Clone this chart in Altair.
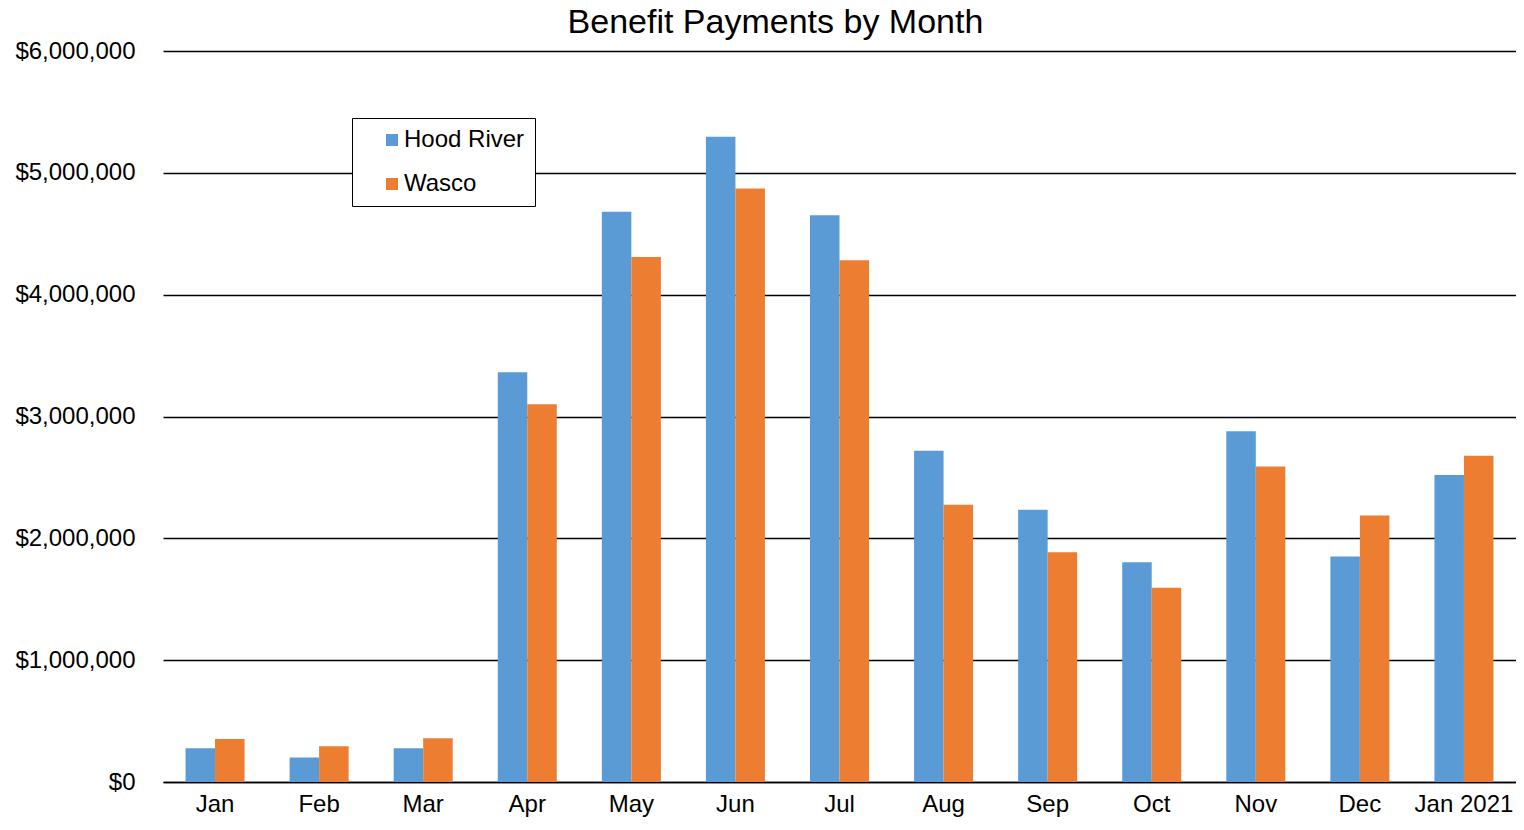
import altair as alt
import pandas as pd

months = ["Jan", "Feb", "Mar", "Apr", "May", "Jun", "Jul", "Aug", "Sep", "Oct", "Nov", "Dec", "Jan 2021"]
hood_river = [278000, 202000, 278000, 3363000, 4680000, 5296000, 4651000, 2718000, 2234000, 1804000, 2879000, 1851000, 2520000]
wasco = [353000, 294000, 359000, 3100000, 4310000, 4871000, 4283000, 2276000, 1886000, 1594000, 2590000, 2188000, 2678000]
series = ["Hood River", "Wasco"]
colors = ["#5B9BD5", "#ED7D31"]
y_ticks = [0, 1000000, 2000000, 3000000, 4000000, 5000000, 6000000]

rows = []
for m, h, w in zip(months, hood_river, wasco):
    rows.append({"Month": m, "County": series[0], "Payments": h})
    rows.append({"Month": m, "County": series[1], "Payments": w})
df = pd.DataFrame(rows)

FONT = "Liberation Sans"

chart = alt.Chart(df).mark_bar().encode(
    x=alt.X("Month:N", sort=months, title=None,
            scale=alt.Scale(paddingInner=0.433, paddingOuter=0.2165),
            axis=alt.Axis(labelAngle=0, labelFontSize=24, labelFont=FONT, labelColor="black",
                          domainColor="black", domainWidth=1.5, ticks=False, labelPadding=10, grid=False)),
    xOffset=alt.XOffset("County:N", sort=series, scale=alt.Scale(paddingInner=0, paddingOuter=0)),
    y=alt.Y("Payments:Q", title=None,
            scale=alt.Scale(domain=[0, 6000000], nice=False),
            axis=alt.Axis(values=y_ticks, format="$,.0f", labelFontSize=24, labelFont=FONT,
                          labelColor="black", domain=False, ticks=False, labelPadding=28,
                          gridColor="black", gridWidth=1.5, gridOpacity=1)),
    color=alt.Color("County:N", sort=series, scale=alt.Scale(domain=series, range=colors),
                    legend=alt.Legend(title=None, orient="none", legendX=189, legendY=67,
                                      labelFontSize=24, labelFont=FONT, labelColor="black",
                                      labelExpr="datum.label + '\u00a0\u00a0'",
                                      symbolType="square", symbolSize=144, symbolStrokeWidth=0,
                                      rowPadding=20, padding=10, symbolOffset=18, labelOffset=0,
                                      strokeColor="black", fillColor="white")),
).properties(
    width=1353,
    height=731,
    padding={"left": 155, "top": 43, "right": 0, "bottom": 40},
    autosize=alt.AutoSizeParams(type="none"),
    background="white",
    title=alt.TitleParams("Benefit Payments by Month", fontSize=34, font=FONT, fontWeight="normal",
                          color="black", anchor="middle", frame="bounds", offset=-1, dx=10),
).configure_view(stroke=None)

chart.save("out.html", embed_options={"renderer": "svg", "actions": False})
